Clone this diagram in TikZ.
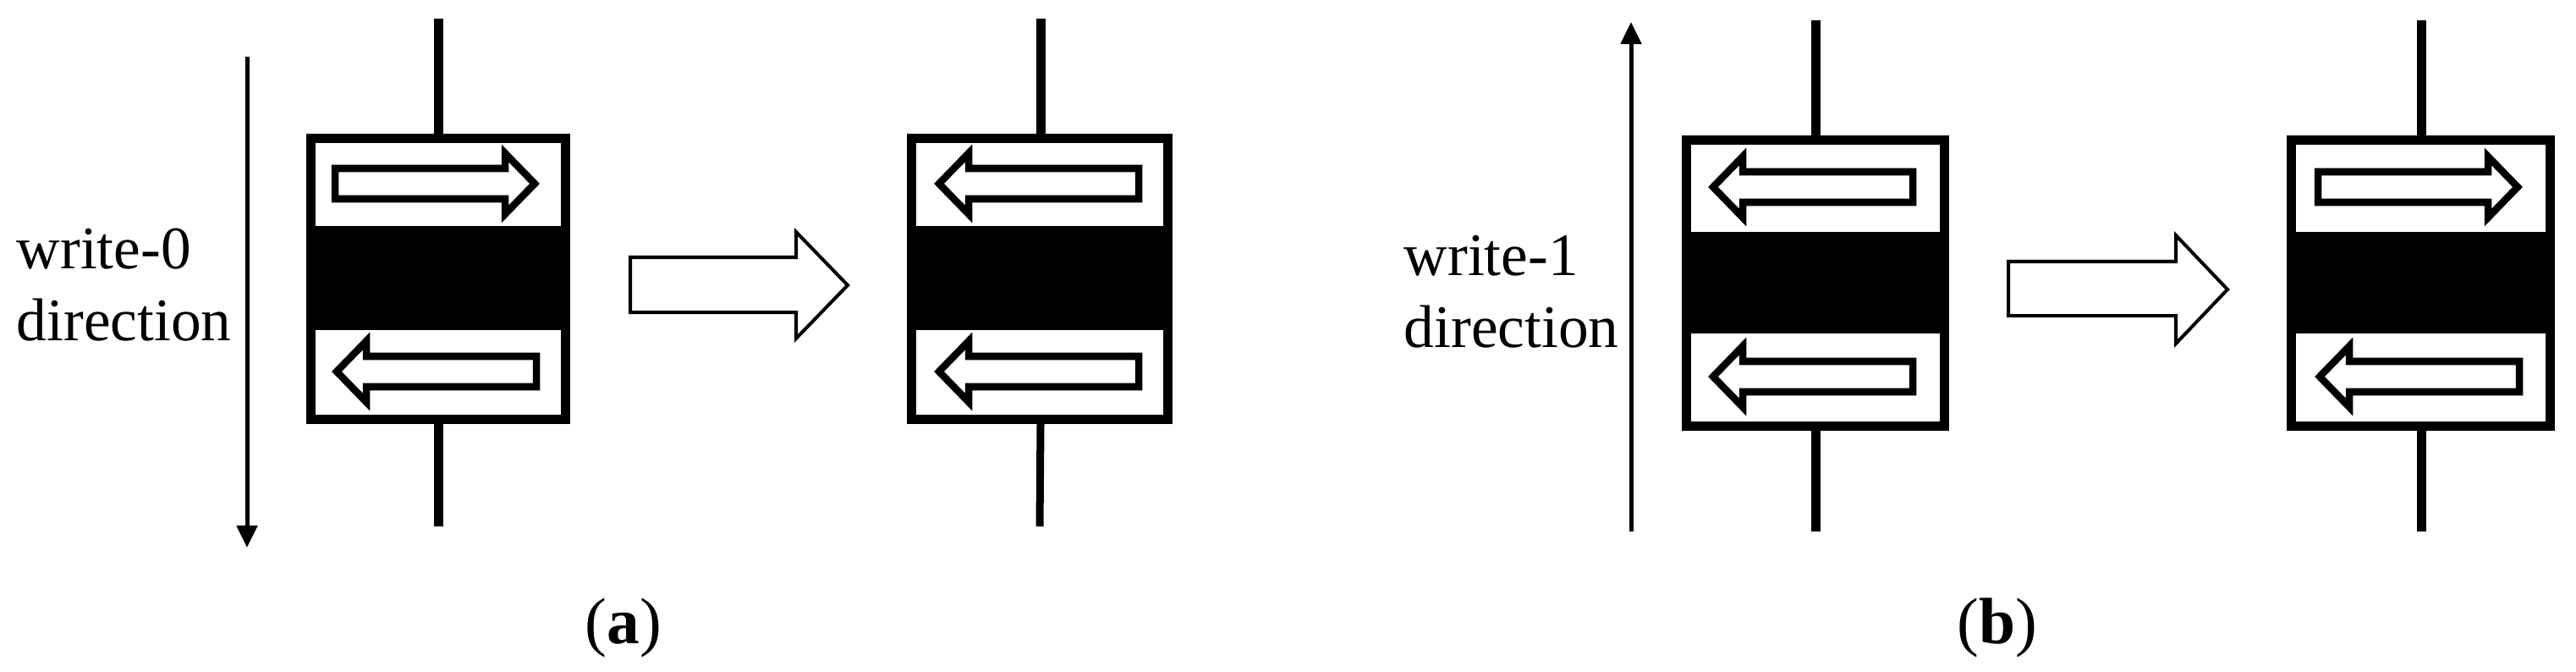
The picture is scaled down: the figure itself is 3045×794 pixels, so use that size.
\documentclass[tikz,border=0pt]{standalone}
\usepackage{fontspec}
\setmainfont{Liberation Serif}
\usetikzlibrary{arrows.meta}
\tikzset{
  x=0.01cm, y=-0.01cm,
  cellbox/.style={draw, line width=0.11cm, inner sep=0pt},
  barrier/.style={fill=black, inner sep=0pt},
  lead/.style={line width=0.11cm},
  sweep/.style={line width=0.05cm, -{Triangle[length=0.26cm, width=0.24cm]}},
  stepover/.style={draw, line width=0.04cm, fill=white, miter limit=10},
  dirlabel/.style={font=\fontsize{20.3pt}{24.2pt}\selectfont, inner sep=0pt, align=left},
  caption/.style={font=\fontsize{22pt}{26pt}\selectfont, inner sep=0pt, anchor=base},
  pics/moment/.style={code={
    \draw [line width=0.085cm, fill=white] (-119, -18) -- (82, -18) -- (82, -36) -- (117, 0)
      -- (82, 36) -- (82, 18) -- (-119, 18) -- cycle;
  }}
}
\begin{document}
\begin{tikzpicture}
  \useasboundingbox (0, 0) rectangle (3045, 794);

  \node [cellbox, minimum width=3.01cm, minimum height=3.32cm] (a1) at (518, 329.5) {};
  \node [barrier, minimum width=3.12cm, minimum height=1.23cm] (a1bar) at (518, 328.5) {};
  \node [cellbox, minimum width=3.03cm, minimum height=3.32cm] (a2) at (1229, 329.5) {};
  \node [barrier, minimum width=3.14cm, minimum height=1.23cm] (a2bar) at (1229, 328.5) {};
  \node [cellbox, minimum width=3.05cm, minimum height=3.38cm] (b1) at (2146, 334.5) {};
  \node [barrier, minimum width=3.16cm, minimum height=1.20cm] (b1bar) at (2146, 334) {};
  \node [cellbox, minimum width=3.06cm, minimum height=3.38cm] (b2) at (2861.5, 334.5) {};
  \node [barrier, minimum width=3.17cm, minimum height=1.20cm] (b2bar) at (2861.5, 334) {};

  \pic at (515, 217) {moment};
  \pic [xscale=-1] at (515, 439) {moment};
  \pic [xscale=-1] at (1227, 217) {moment};
  \pic [xscale=-1] at (1227, 439) {moment};
  \pic [xscale=-1] at (2142, 221) {moment};
  \pic [xscale=-1] at (2142, 445) {moment};
  \pic at (2859, 221) {moment};
  \pic [xscale=-1] at (2859, 445) {moment};

  \coordinate (a1top) at (518, 22);
  \coordinate (a1bot) at (518, 622);
  \coordinate (a2top) at (1230, 22);
  \coordinate (a2bot) at (1229, 622);
  \coordinate (b1top) at (2146, 24);
  \coordinate (b1bot) at (2146, 628);
  \coordinate (b2top) at (2862, 24);
  \coordinate (b2bot) at (2862, 628);
  \draw [lead] (a1top) -- (518, 158);
  \draw [lead] (518, 501) -- (a1bot);
  \draw [lead] (a2top) -- (1230, 158);
  \draw [lead, line width=0.09cm] (1230, 501) -- (a2bot);
  \draw [lead] (b1top) -- (2146, 160);
  \draw [lead] (2146, 509) -- (b1bot);
  \draw [lead] (b2top) -- (2862, 160);
  \draw [lead] (2862, 509) -- (b2bot);

  \coordinate (a0start) at (292, 67);
  \coordinate (a0end) at (292, 647);
  \coordinate (b0start) at (1928, 628);
  \coordinate (b0end) at (1928, 26);
  \draw [sweep] (a0start) -- (a0end);
  \draw [sweep] (b0start) -- (b0end);

  \draw [stepover] (745, 304) -- (941, 304) -- (941, 274) -- (1002, 337) -- (941, 400)
    -- (941, 369) -- (745, 369) -- cycle;
  \draw [stepover] (2374, 309) -- (2572, 309) -- (2572, 278) -- (2633, 342) -- (2572, 406)
    -- (2572, 373) -- (2374, 373) -- cycle;

  \node [dirlabel, anchor=west] (writea) at (19, 337) {write-0\\direction};
  \node [dirlabel, anchor=west] (writeb) at (1659, 345) {write-1\\direction};
  \node [caption] (capa) at (737, 760) {(\textbf{a})};
  \node [caption] (capb) at (2361, 760) {(\textbf{b})};
\end{tikzpicture}
\end{document}
